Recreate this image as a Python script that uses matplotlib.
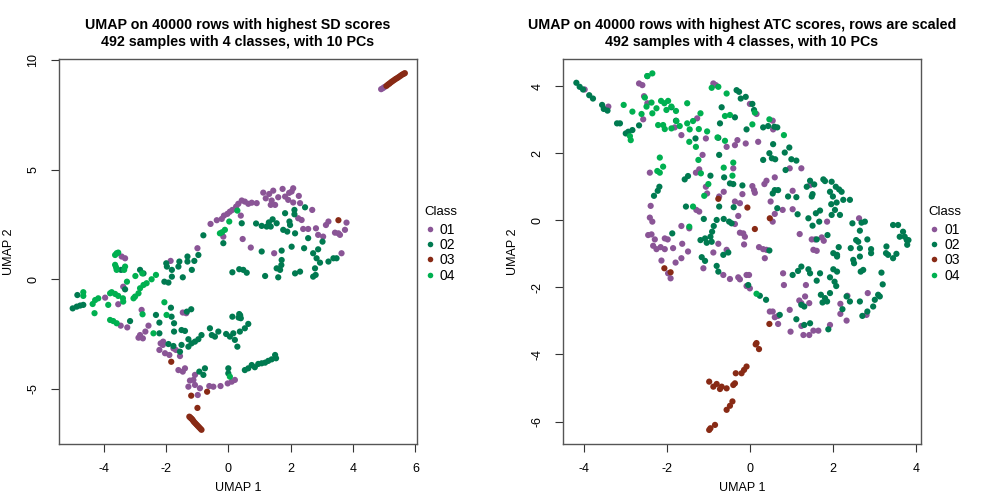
import matplotlib
matplotlib.use("Agg")
import matplotlib.pyplot as plt
from matplotlib.lines import Line2D

# class colours
colors = {"01": "#8A5596", "02": "#007A50", "03": "#882A15", "04": "#00B050"}
classes = ["01", "02", "03", "04"]

# ---- left panel: SD scores ----
sd_01 = [(4.90, 8.69), (4.96, 8.74), (5.01, 8.79),
         (-0.57, 2.53), (-0.37, 2.70), (-0.21, 2.76), (-0.14, 2.91), (-0.03, 2.99), (0.05, 3.09),
         (0.13, 3.17), (0.25, 3.32), (0.32, 3.45), (0.43, 3.60), (0.53, 3.55), (0.64, 3.45),
         (0.91, 3.48), (1.12, 3.96), (1.31, 3.90), (1.39, 3.60), (1.44, 4.05), (1.50, 3.40),
         (1.36, 3.40), (1.74, 4.13), (1.82, 3.78), (1.92, 3.63), (2.03, 4.01), (2.08, 4.16),
         (2.08, 3.51), (2.26, 3.81), (2.30, 3.48), (2.69, 3.17), (2.24, 2.79), (2.35, 2.71),
         (0.40, 2.91), (-0.16, 1.95), (0.46, 1.84), (0.72, 1.45), (1.47, 1.19), (2.40, 2.30),
         (2.56, 2.30), (2.81, 2.33), (2.88, 2.03), (3.04, 1.95), (3.21, 2.64), (3.13, 2.48),
         (3.42, 2.13), (3.53, 2.10), (3.58, 2.03), (3.74, 2.26), (3.79, 2.59), (3.63, 1.19),
         (-0.99, 1.42), (-1.85, 0.84), (1.60, 3.75), (1.20, 3.70), (0.75, 3.50), (1.95, 3.95),
         (-3.42, 1.04), (-3.31, 0.96), (-3.37, -0.34), (-3.53, -1.14), (-3.45, -2.12),
         (-3.24, -2.20), (-2.83, -2.55), (-2.88, -2.67), (-2.74, -2.70), (-2.66, -2.39),
         (-2.56, -2.12), (-2.78, -1.40), (-2.17, -2.93), (-2.09, -2.85), (-2.21, -3.23),
         (-2.03, -3.38), (-1.89, -3.46), (-1.76, -3.16), (-1.68, -3.23), (-1.55, -3.51),
         (-1.46, -1.52), (-1.35, -1.55), (-1.60, -4.15), (-1.46, -4.22), (-1.39, -4.07),
         (-1.23, -4.63), (-1.12, -4.60), (-1.07, -4.37), (-1.07, -4.83), (-1.28, -4.91),
         (-0.91, -4.98), (-0.98, -5.29), (-0.61, -4.88), (-0.48, -4.91), (-0.25, -4.88),
         (-0.02, -4.76), (0.11, -4.68), (0.21, -4.60), (-3.95, -0.84), (-2.10, -3.00)]
sd_02 = [(-0.80, 2.01), (0.43, 2.56), (-0.16, 1.65), (0.89, 2.55), (1.07, 2.44), (1.23, 2.41),
         (1.36, 2.41), (1.42, 2.74), (1.55, 2.56), (1.82, 3.02), (2.12, 2.97), (2.12, 3.17),
         (2.46, 3.29), (1.96, 2.64), (1.98, 2.48), (1.76, 2.26), (1.89, 2.18), (2.14, 2.10),
         (2.56, 1.88), (3.02, 1.72), (2.03, 1.49), (2.43, 1.42), (2.88, 1.37), (2.72, 1.19),
         (2.83, 0.96), (2.94, 0.76), (3.21, 0.81), (3.37, 0.96), (3.47, 0.96), (2.78, 0.50),
         (2.72, 0.12), (1.07, 1.27), (1.71, 1.31), (1.71, 0.88), (1.55, 0.50), (1.66, 0.43),
         (1.60, 0.09), (1.18, 0.15), (2.14, 0.27), (2.30, 0.35), (0.13, 0.32), (0.35, 0.46),
         (0.48, 0.43), (0.59, 0.30), (1.70, 0.65), (2.80, 0.20), (1.30, 2.60),
         (-4.99, -1.33), (-4.86, -1.25), (-4.75, -1.20), (-4.65, -1.17), (-4.84, -0.72),
         (-3.44, 0.43), (-2.83, 0.43), (-2.72, 0.27), (-3.31, -0.46), (-3.15, -1.91),
         (-2.05, -0.11), (-1.92, -0.15), (-1.97, 0.58), (-1.99, 0.73), (-1.81, 0.43),
         (-1.81, 0.12), (-1.57, 0.81), (-1.60, 0.58), (-1.46, 0.09), (-1.31, 1.04),
         (-1.31, 0.81), (-1.17, 0.43), (-1.09, 0.84), (-0.96, 1.11),
         (-1.84, -1.30), (-1.82, -1.71), (-2.32, -1.63), (-2.21, -1.98), (-2.21, -2.47),
         (-1.74, -2.01), (-1.74, -2.39), (-1.50, -2.32), (-1.39, -2.36), (-1.92, -2.96),
         (-1.76, -3.05), (-1.50, -3.00), (-1.55, -3.31), (-1.28, -3.08), (-1.18, -2.93),
         (-1.07, -2.85), (-0.96, -2.74), (-1.28, -2.74), (-0.86, -2.55), (-0.59, -2.24),
         (-0.53, -2.55), (-0.43, -2.62), (-0.32, -2.39), (-0.07, -2.50), (0.05, -2.62),
         (0.16, -2.47), (0.21, -2.77), (0.29, -3.08), (0.37, -2.39), (0.53, -2.24),
         (0.64, -2.04), (0.13, -1.71), (0.35, -1.59), (0.40, -1.78), (-1.19, -1.37),
         (-1.33, -1.48), (0.53, -4.15), (0.64, -4.07), (0.75, -3.92), (0.85, -4.02),
         (0.96, -3.87), (1.07, -3.84), (1.18, -3.81), (1.28, -3.73), (1.39, -3.66),
         (1.50, -3.46), (1.53, -3.61), (-0.75, -4.07), (-0.93, -4.22), (-0.80, -4.37),
         (0.00, -4.07), (0.00, -4.30), (0.38, -1.65), (0.33, -1.75)]
sd_03 = [(5.07, 8.84), (5.12, 8.90), (5.17, 8.95), (5.22, 9.01), (5.27, 9.06), (5.32, 9.11),
         (5.37, 9.16), (5.42, 9.20), (5.47, 9.25), (5.52, 9.30), (5.57, 9.35), (5.62, 9.39),
         (5.66, 9.42), (3.53, 2.70), (-1.83, -3.77), (-1.19, -5.32), (-0.68, -5.14),
         (-0.99, -5.88), (-1.25, -6.28), (-1.22, -6.32), (-1.19, -6.36), (-1.16, -6.40),
         (-1.13, -6.46), (-1.10, -6.52), (-1.06, -6.58), (-1.02, -6.64), (-0.98, -6.70),
         (-0.94, -6.76), (-0.90, -6.82), (-0.86, -6.88)]
sd_04 = [(0.29, 3.14), (0.03, 2.64), (-0.11, 2.26), (-0.27, 2.10), (-0.20, 2.15),
         (-3.58, 1.19), (-3.53, 1.22), (-3.63, 1.11), (-3.63, 0.66), (-3.58, 0.43),
         (-3.31, 0.58), (-3.34, 0.43), (-3.25, -0.11), (-2.98, 0.15), (-2.76, 0.27),
         (-2.62, -0.18), (-2.46, 0.00), (-2.32, 0.20), (-2.72, -0.26), (-2.83, -0.41),
         (-2.99, -0.79), (-2.88, -0.64), (-3.04, -0.87), (-3.74, -0.59), (-3.63, -0.67),
         (-3.53, -0.76), (-3.38, -0.87), (-3.37, -1.02), (-3.85, -1.17), (-3.79, -0.64),
         (-4.17, -0.87), (-4.27, -0.95), (-4.35, -1.13), (-4.29, -1.55), (-4.65, -0.59),
         (-4.65, -0.76), (-3.79, -1.86), (-3.69, -1.91), (-3.58, -2.01), (-2.05, -1.05),
         (-2.75, -1.60), (-2.40, -2.47), (-1.98, -1.63), (0.05, -4.45), (-3.60, 0.55)]

# ---- right panel: ATC scores ----
atc_01 = [(-3.98, 3.90), (-3.41, 3.39), (-2.67, 4.08), (-2.59, 4.03), (-2.55, 3.70),
          (-2.47, 3.49), (-2.57, 3.01), (-2.41, 1.42), (-2.39, 0.43), (-2.41, 0.08),
          (-2.35, -0.04), (-2.45, -0.44), (-2.37, -0.42), (-2.29, -0.57), (-2.33, -0.76),
          (-2.25, -0.86), (-2.15, -0.80), (-2.05, -0.86), (-1.98, -0.57), (-2.05, -0.54),
          (-1.85, -0.83), (-1.63, -0.70), (-1.49, -0.93), (-1.65, -1.13), (-1.79, -1.26),
          (-2.13, -1.20), (-1.97, -1.58), (-1.91, -1.73), (-1.65, -0.17), (-1.46, -0.24),
          (-1.29, 0.31), (-1.22, 0.26), (-1.81, 2.77), (-1.65, 2.54), (-1.30, 1.42),
          (-1.22, 1.52), (-1.14, 1.95), (-1.06, 2.44), (-1.27, 3.04), (-0.88, 4.08),
          (-0.82, 4.03), (-0.56, 2.19), (-0.36, 2.24), (-0.30, 2.39), (-0.10, 2.29),
          (0.20, 2.34), (0.00, 3.47), (0.16, 3.17), (-0.40, 1.55), (-0.63, 0.85),
          (-0.74, 0.71), (-1.03, 0.80), (-1.06, 1.00), (-0.36, 0.56), (-0.24, 0.51),
          (-0.18, 0.78), (-0.28, 0.13), (-0.36, -0.11), (-0.24, -0.37), (-0.16, -0.39),
          (-0.12, -0.49), (-0.14, -0.72), (0.06, 1.02), (0.10, 0.90), (0.12, 0.82),
          (0.35, 1.08), (0.40, 1.18), (0.60, 1.28), (0.56, 2.71), (0.55, 2.97),
          (0.50, 0.56), (0.60, 0.19), (0.55, -0.04), (0.79, 0.31), (1.03, 0.33),
          (1.03, 0.88), (0.96, 1.55), (1.24, 1.55), (1.45, 1.05), (1.20, -0.41),
          (1.49, -0.57), (1.57, -0.57), (1.53, -0.88), (1.61, -0.91), (1.73, -0.51),
          (1.78, -0.61), (1.86, -0.04), (2.63, 0.06), (-0.88, -0.96), (-0.76, -0.70),
          (-0.56, -0.88), (-0.64, -1.63), (-0.48, -1.75), (-0.28, -1.70), (-0.24, -1.76),
          (-0.08, -1.63), (-0.02, -1.63), (-0.08, -1.96), (0.00, -2.03), (-1.12, -1.43),
          (0.22, -0.80), (0.32, -0.86), (0.36, -1.13), (0.40, -0.88), (0.80, -1.58),
          (0.82, -1.93), (0.48, -2.72), (0.55, -2.72), (0.60, -2.89), (0.68, -2.85),
          (0.68, -3.09), (0.96, -2.67), (0.98, -3.32), (1.19, -2.39), (1.24, -2.47),
          (1.33, -2.27), (1.35, -1.93), (1.43, -2.47), (1.24, -3.15), (1.29, -3.42),
          (1.43, -3.42), (1.53, -3.29), (1.65, -3.29), (1.93, -3.12), (2.18, -2.49),
          (2.18, -2.79), (2.33, -2.99), (2.35, -2.25), (2.81, -2.82), (2.84, -2.17)]
atc_02 = [(-4.18, 4.10), (-4.10, 3.98), (-4.02, 3.90), (-3.87, 3.73), (-3.78, 3.63),
          (-3.56, 3.44), (-3.52, 3.32), (-3.43, 3.27), (-3.20, 2.89), (-3.13, 2.89),
          (-2.99, 2.59), (-2.93, 2.64), (-2.83, 2.69), (-2.67, 2.83), (-2.47, 4.30),
          (-1.78, 2.97), (-1.89, 3.37), (-1.31, 2.44), (-0.76, 2.46), (-0.74, 1.95),
          (-0.68, 3.37), (-0.72, 2.89), (-0.36, 3.07), (-0.32, 3.88), (-0.26, 3.83),
          (-0.22, 3.63), (-0.10, 3.68), (-0.08, 2.71), (0.06, 3.47), (0.10, 3.29),
          (0.32, 2.77), (0.44, 2.81), (0.59, 2.79), (0.66, 2.77), (0.56, 2.27),
          (0.47, 2.00), (0.53, 1.85), (0.61, 1.82), (0.32, 1.80), (0.84, 2.02),
          (0.95, 2.17), (1.00, 1.82), (1.12, 1.78), (0.86, 1.50), (1.45, 1.18),
          (1.37, 1.00), (1.55, 1.07), (1.77, 1.22), (1.81, 1.17), (1.97, 1.15),
          (2.07, 1.00), (2.15, 0.92), (2.21, 0.85), (1.93, 0.85), (2.00, 0.71),
          (1.96, 0.48), (2.09, 0.53), (2.25, 0.61), (2.41, 0.61), (2.17, 0.16),
          (1.97, 0.16), (2.05, 0.31), (1.69, 0.29), (1.59, 0.21), (1.51, -0.16),
          (1.41, 0.06), (1.67, -0.04), (1.87, -0.44), (0.92, 0.71), (1.12, 0.69),
          (1.15, 0.18), (0.68, 0.90), (0.60, 0.90), (0.55, 0.80), (0.66, 0.36),
          (1.51, 0.78), (1.49, 0.71), (1.61, -0.57), (2.01, -0.98), (2.10, -1.08),
          (2.14, -0.80), (2.10, -1.03), (2.43, -0.83), (2.49, -1.18), (2.51, -1.28),
          (2.56, -0.59), (2.61, -0.64), (2.65, -0.31), (2.65, -0.83), (2.65, -1.08),
          (2.67, -1.53), (2.73, -1.48), (2.77, -0.04), (2.69, -0.07), (2.47, -0.09),
          (2.83, -0.57), (2.92, -0.86), (2.92, -0.98), (3.29, -0.78), (3.28, -0.98),
          (3.33, -1.03), (3.45, -1.13), (3.53, -1.00), (3.45, -0.14), (3.57, -0.14),
          (3.69, -0.34), (3.73, -0.49), (3.78, -0.59), (3.79, -0.73), (3.82, -0.59),
          (3.61, -0.49), (3.17, -1.56), (3.20, -1.91), (3.09, -2.22), (3.01, -2.37),
          (3.13, -2.27), (2.97, -2.57), (2.83, -2.72), (2.71, -2.85), (2.65, -2.42),
          (2.41, -2.42), (2.33, -2.27), (2.23, -2.65), (1.93, -2.17), (2.01, -1.46),
          (2.10, -1.53), (2.04, -1.83), (2.08, -1.96), (1.89, -3.25), (1.93, -1.70),
          (1.81, -2.32), (1.71, -2.22), (1.75, -2.45), (1.86, -2.42), (1.69, -1.58),
          (1.61, -1.80), (1.41, -1.46), (1.45, -1.58), (1.24, -1.38), (1.16, -1.51),
          (1.03, -1.63), (1.31, -2.57), (1.24, -2.52), (1.12, -2.95), (1.31, -3.12),
          (1.45, -3.07), (0.72, -2.82), (0.39, -2.37), (0.24, -2.25), (-0.04, -1.93),
          (0.47, -0.90), (-0.74, 0.41), (-0.63, 0.04), (-0.80, 0.01), (-0.87, -0.17),
          (-0.91, -0.34), (-0.95, -0.49), (-1.08, -0.54), (-1.19, -0.59), (-1.04, -0.67),
          (-0.92, -0.64), (-1.16, -1.10), (-1.08, -1.21), (-0.80, -1.36), (-0.76, -1.53),
          (-1.11, 0.04), (-1.54, 0.41), (-1.87, -0.39), (-2.18, 1.00), (-2.22, 0.88),
          (-2.31, 0.73), (-1.57, 1.22), (-1.49, 1.32), (-0.95, 1.33), (-0.62, 1.28),
          (-0.48, 1.10), (-0.40, 1.08), (-0.18, 1.04), (-0.39, 0.39), (-0.50, -0.04),
          (-0.44, -0.09), (-0.52, -0.96), (-0.64, -1.03)]
atc_03 = [(-0.76, 0.64), (-0.06, 0.38), (0.12, -0.26), (0.48, 0.06), (-2.06, -1.43),
          (-1.91, -1.55), (0.47, -3.09), (0.16, -3.66), (0.22, -3.84), (-0.08, -4.36),
          (-0.14, -4.46), (-0.20, -4.56), (-0.34, -4.56), (-0.36, -4.86), (-0.40, -4.91),
          (-0.56, -5.01), (-0.68, -4.96), (-0.80, -4.88), (-0.88, -4.96), (-0.98, -4.81),
          (-0.72, -5.03), (-0.42, -5.40), (-0.48, -5.53), (-0.56, -5.65), (-0.84, -6.10),
          (-0.95, -6.20), (-0.98, -6.25), (0.14, -3.70)]
atc_04 = [(-2.47, 4.30), (-2.35, 4.38), (-2.53, 3.66), (-2.37, 3.51), (-2.49, 3.39),
          (-2.35, 3.19), (-2.25, 3.34), (-2.14, 3.56), (-2.06, 3.49), (-1.97, 3.56),
          (-2.01, 3.29), (-1.89, 3.39), (-1.78, 3.26), (-2.61, 3.17), (-2.83, 3.24),
          (-3.04, 3.44), (-2.89, 2.51), (-2.87, 2.39), (-2.21, 2.84), (-2.09, 2.84),
          (-2.05, 2.72), (-1.89, 2.74), (-1.77, 2.96), (-1.69, 2.81), (-1.51, 3.49),
          (-1.51, 2.89), (-1.37, 2.96), (-1.45, 2.71), (-1.23, 2.72), (-1.19, 3.19),
          (-1.03, 2.65), (-1.46, 2.34), (-1.30, 2.19), (-0.78, 2.47), (-0.60, 2.37),
          (-1.24, 1.80), (-1.18, 1.40), (-0.92, 3.95), (-0.76, 3.98), (-0.56, 3.78),
          (-0.60, 3.11), (-0.48, 3.14), (0.12, 3.21), (0.06, 2.86), (0.47, 3.01),
          (0.82, 2.54), (-2.17, 1.87), (-2.09, 1.60), (-2.17, 1.42), (-2.23, 1.47),
          (-1.00, 1.08), (-1.10, 0.73), (-0.63, 1.57), (-0.42, 1.33), (-0.40, 1.72),
          (-1.37, 0.41), (-1.46, -0.19), (0.16, -2.19)]

panels = [
    {"title": "UMAP on 40000 rows with highest SD scores\n492 samples with 4 classes, with 10 PCs",
     "data": [sd_01, sd_02, sd_03, sd_04], "xlim": (-5.43, 6.05), "ylim": (-7.53, 10.07),
     "xticks": [-4, -2, 0, 2, 4, 6], "yticks": [-5, 0, 5, 10],
     "rect": [0.0585, 0.119, 0.3552, 0.764]},
    {"title": "UMAP on 40000 rows with highest ATC scores, rows are scaled\n492 samples with 4 classes, with 10 PCs",
     "data": [atc_01, atc_02, atc_03, atc_04], "xlim": (-4.51, 4.13), "ylim": (-6.67, 4.81),
     "xticks": [-4, -2, 0, 2, 4], "yticks": [-6, -4, -2, 0, 2, 4],
     "rect": [0.5582, 0.119, 0.3558, 0.764]},
]

plt.rcParams['font.family'] = ['Liberation Sans', 'DejaVu Sans']
fig = plt.figure(figsize=(10.08, 5.04), dpi=100)

for p in panels:
    ax = fig.add_axes(p["rect"])
    for cls, pts in zip(classes, p["data"]):
        xs = [q[0] for q in pts]
        ys = [q[1] for q in pts]
        ax.scatter(xs, ys, s=20, color=colors[cls], edgecolors="none")
    ax.set_xlim(p["xlim"])
    ax.set_ylim(p["ylim"])
    ax.set_xticks(p["xticks"])
    ax.set_yticks(p["yticks"])
    ax.set_xticklabels([str(t) for t in p["xticks"]])
    ax.set_yticklabels([str(t) for t in p["yticks"]], rotation=90, va="center")
    ax.tick_params(direction="out", length=6, labelsize=9, pad=8, color="#333333")
    for sp in ax.spines.values():
        sp.set_color("#555555")
        sp.set_linewidth(1)
    ax.set_xlabel("UMAP 1", fontsize=9, labelpad=5)
    ax.set_ylabel("UMAP 2", fontsize=9, labelpad=9)
    ax.set_title(p["title"], fontsize=10.3, fontweight="bold", pad=9, linespacing=1.3)
    handles = [Line2D([0], [0], marker="o", linestyle="none", markersize=4,
                      markerfacecolor=colors[c], markeredgecolor="none", label=c) for c in classes]
    leg = ax.legend(handles=handles, title="Class", loc="center left", bbox_to_anchor=(1.0, 0.519),
                    frameon=False, fontsize=10, title_fontsize=9.5, handletextpad=0.35,
                    labelspacing=0.1, handlelength=0.8, borderaxespad=0.1)
    leg._legend_box.align = "left"
    leg._legend_box.sep = 3.5

fig.savefig("out.png", dpi=100)
